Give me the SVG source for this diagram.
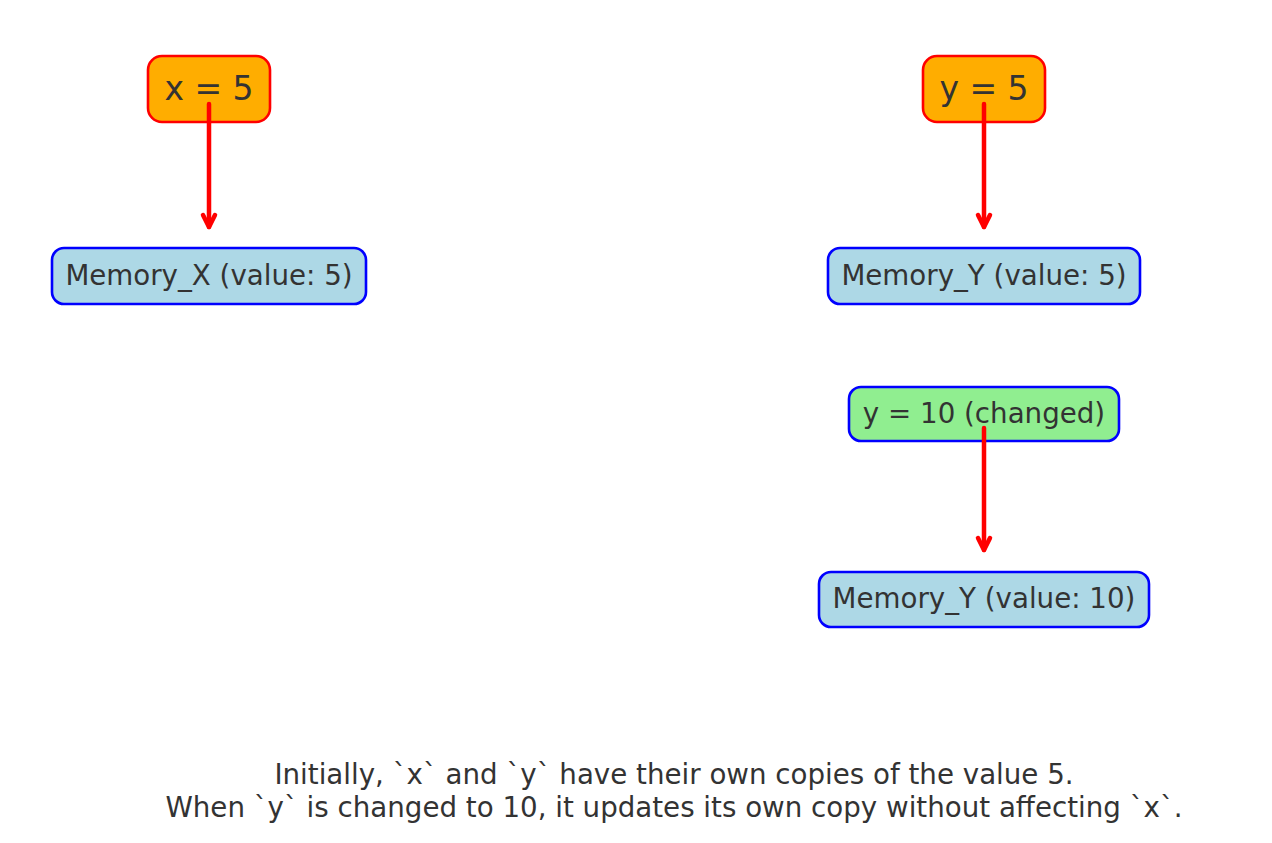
<svg xmlns="http://www.w3.org/2000/svg" width="1272" height="843" viewBox="0 0 1272 843">
<defs>
<style>
.t{font-family:"DejaVu Sans",sans-serif;fill:#333333;text-anchor:middle}
.var{fill:#ffad00;stroke:#ff0000;stroke-width:2.6}
.mem{fill:#add8e6;stroke:#0000ff;stroke-width:2.6}
.chg{fill:#90ee90;stroke:#0000ff;stroke-width:2.6}
.c{stroke:#ff0000;stroke-width:4.5;fill:none;stroke-linecap:round}
.h{stroke:#ff0000;stroke-width:4.5;fill:none;stroke-linecap:round;stroke-linejoin:round}
</style>
</defs>
<rect width="1272" height="843" fill="#ffffff"/>
<g id="node-x">
<rect class="var" x="148" y="56" width="122" height="66" rx="14"/>
<text class="t" x="209" y="100" font-size="33">x = 5</text>
</g>
<g id="node-memx">
<rect class="mem" x="52" y="248" width="314" height="56" rx="12"/>
<text class="t" x="209" y="285" font-size="27.7">Memory_X (value: 5)</text>
</g>
<g id="node-y">
<rect class="var" x="923" y="56" width="122" height="66" rx="14"/>
<text class="t" x="984" y="100" font-size="33">y = 5</text>
</g>
<g id="node-memy5">
<rect class="mem" x="828" y="248" width="312" height="56" rx="12"/>
<text class="t" x="984" y="285" font-size="27.7">Memory_Y (value: 5)</text>
</g>
<g id="node-y10">
<rect class="chg" x="849" y="387" width="270" height="54" rx="12"/>
<text class="t" x="984" y="423" font-size="27.7">y = 10 (changed)</text>
</g>
<g id="node-memy10">
<rect class="mem" x="819" y="572" width="330" height="55" rx="12"/>
<text class="t" x="984" y="608" font-size="27.7">Memory_Y (value: 10)</text>
</g>
<g id="connectors">
<line class="c" x1="209" y1="104" x2="209" y2="227"/>
<polyline class="h" points="203,215 209,227 215,215"/>
<line class="c" x1="984" y1="104" x2="984" y2="227"/>
<polyline class="h" points="978,215 984,227 990,215"/>
<line class="c" x1="984" y1="428" x2="984" y2="550"/>
<polyline class="h" points="978,538 984,550 990,538"/>
</g>
<g id="caption">
<text class="t" x="674" y="784" font-size="27.7">Initially, `x` and `y` have their own copies of the value 5.</text>
<text class="t" x="674" y="817" font-size="27.7">When `y` is changed to 10, it updates its own copy without affecting `x`.</text>
</g>
</svg>
